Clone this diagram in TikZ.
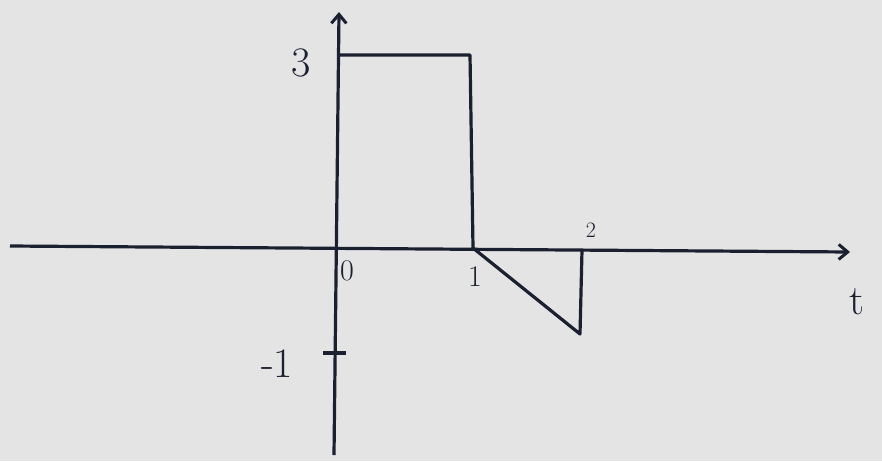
\documentclass[tikz,border=0pt]{standalone}
\usetikzlibrary{arrows.meta,positioning,calc}
\definecolor{ink}{HTML}{1B2030}
\definecolor{paper}{HTML}{E4E4E4}
\tikzset{
  axis/.style={draw=ink, line width=3.2pt, -{Straight Barb[length=9pt, width=15pt, line width=3pt]}},
  wave/.style={draw=ink, line width=3.2pt, line join=round},
  tick/.style={draw=ink, line width=3.6pt},
  num/.style={text=ink, inner sep=0pt, font=\fontsize{30}{32}\selectfont},
  big/.style={text=ink, inner sep=0pt, font=\fontsize{42}{44}\selectfont},
}
\begin{document}
\begin{tikzpicture}[x=1pt,y=-1pt]

% ----- page -----
\fill[paper] (0,0) rectangle (882,461);
\useasboundingbox (0,0) rectangle (882,461);

% ----- axes -----
\coordinate (xl) at (10,246);
\coordinate (xr) at (850,252);
\coordinate (yb) at (334,455);
\coordinate (yt) at (339,12);
\draw[axis] (xl) -- (xr);
\draw[axis] (yb) -- (yt);

% ----- signal -----
\coordinate (a0) at ($(yb)!0.903!(yt)$);
\coordinate (a1) at (470,55);
\coordinate (a2) at (473,248);
\coordinate (b1) at (580,334);
\coordinate (b2) at (582,250);
\draw[wave] (a0) -- (a1) -- (a2) -- (b1) -- (b2);

% ----- tick at -1 -----
\coordinate (m1) at (336,353);
\draw[tick] ([xshift=-13pt]m1) -- ([xshift=10pt]m1);

% ----- labels -----
\node[big] (three) at (301,63) {3};
\node[big] (minus) at (277,364) {-1};
\node[num] (zero) at (347,271) {0};
\node[num] (one) at (475,277) {1};
\node[num, font=\fontsize{22}{24}\selectfont] (two) at (591,230) {2};
\node[big] (tlab) at (857,302) {t};

\end{tikzpicture}
\end{document}
